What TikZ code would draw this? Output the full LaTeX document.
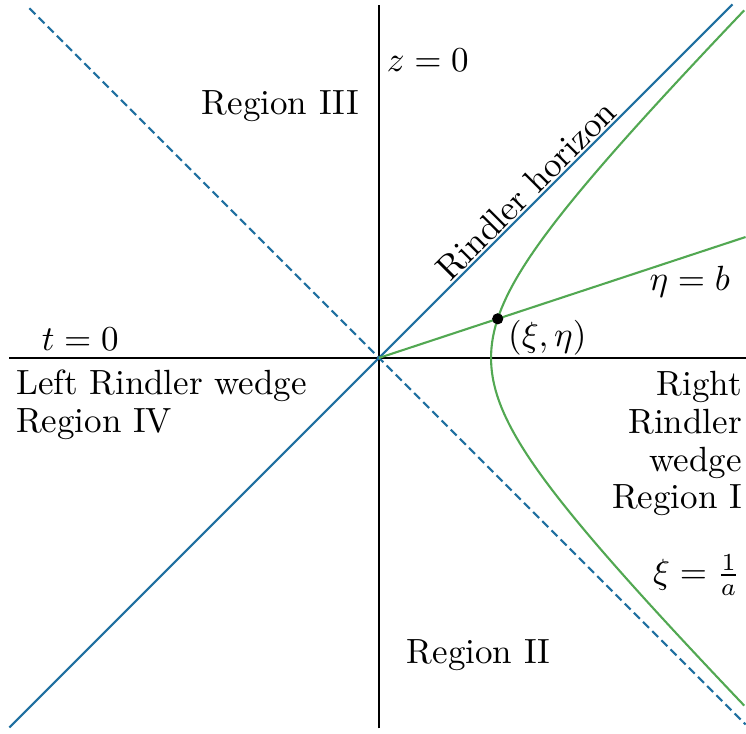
\documentclass[tikz,border=0pt]{standalone}
\usepackage{amsmath,amssymb}
\usetikzlibrary{arrows.meta}
\definecolor{hblue}{RGB}{31,111,160}
\definecolor{hgreen}{RGB}{82,168,82}

\begin{document}
\begin{tikzpicture}[every node/.style={font=\fontsize{10}{10.6}\selectfont},
  axis/.style={black,line width=0.45pt},
  horizon/.style={hblue,line width=0.6pt},
  orbit/.style={hgreen,line width=0.6pt},
  lbl/.style={inner sep=0pt,align=center}]
\useasboundingbox (-3.805,-3.775) rectangle (3.685,3.594);
\coordinate (O) at (0,0);
% axes
\draw[axis] (0,-3.72) -- (0,3.54);
\draw[axis] (-3.71,0) -- (3.69,0);
% light cone
\draw[horizon] (-3.71,-3.71) -- (3.55,3.55);
\draw[horizon,dash pattern=on 2.4pt off 1.3pt] (-3.51,3.51) -- (3.68,-3.68);
% observer
\draw[orbit] (O) -- (3.68,1.214);
\draw[orbit] plot[domain=-3.49:3.49,samples=120] ({sqrt(1.125*1.125+\x*\x)},\x);
\node[circle,fill=black,inner sep=0pt,minimum size=3.2pt] (ev) at (1.192,0.393) {};
% labels
\node[lbl] (zax) at (0.49,2.99) {$z=0$};
\node[lbl] (tax) at (-3.0,0.19) {$t=0$};
\node[lbl] (r3) at (-0.99,2.53) {Region III};
\node[lbl] (r2) at (1.0,-2.98) {Region II};
\node[lbl,align=left,anchor=west] (r4) at (-3.65,-0.47) {Left Rindler wedge\\Region IV};
\node[lbl,align=right,anchor=east,font=\fontsize{10}{10.8}\selectfont] (r1) at (3.65,-0.86) {Right\\Rindler\\wedge\\Region I};
\node[rotate=45,anchor=south,inner sep=0.4pt] (hz) at (1.58,1.58) {Rindler horizon};
\node[lbl] (eta) at (3.12,0.77) {$\eta=b$};
\node[lbl] (evl) at (1.69,0.2) {$(\xi,\eta)$};
\node[lbl] (xi) at (3.19,-2.18) {$\xi=\frac{1}{a}$};
\end{tikzpicture}
\end{document}
